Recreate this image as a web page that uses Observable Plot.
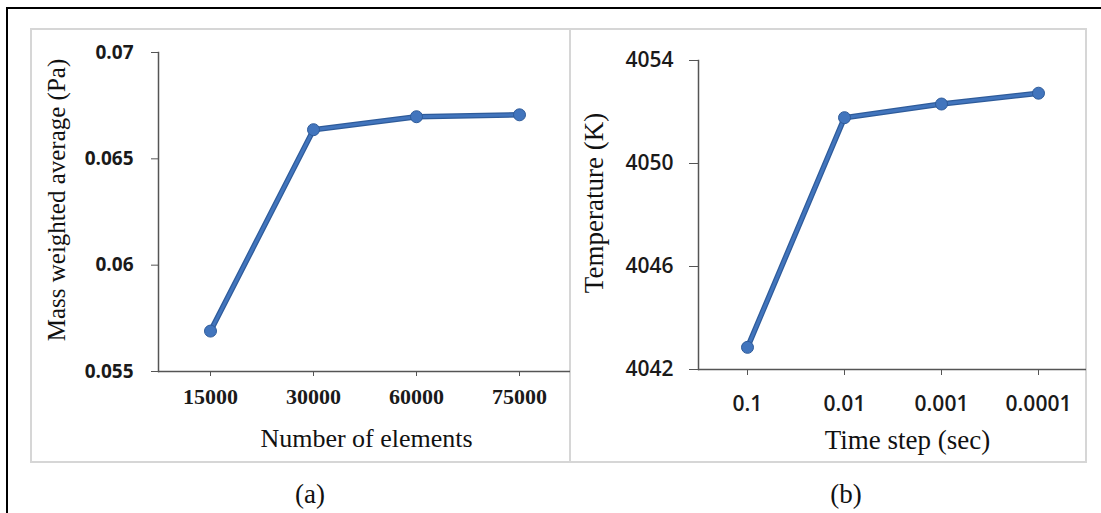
<!DOCTYPE html>
<html>
<head>
<meta charset="utf-8">
<script src="https://cdn.jsdelivr.net/npm/d3@7"></script>
<script src="https://cdn.jsdelivr.net/npm/@observablehq/plot@0.6"></script>
<style>
  html, body { margin: 0; padding: 0; background: #fff; overflow: hidden; }
  #wrap { position: relative; width: 1101px; height: 513px; overflow: hidden; background: #fff; }
  .outer { position: absolute; left: 6px; top: 7px; width: 1200px; height: 700px; border: 2.5px solid #000; box-sizing: border-box; }
  .frame { position: absolute; border: 2px solid #d6d6d6; box-sizing: border-box; }
  .chart { position: absolute; }
  .cap { position: absolute; font-family: "Liberation Serif", serif; font-size: 27px; color: #111; transform: translate(-50%, -50%); white-space: nowrap; }
</style>
</head>
<body>
<div id="wrap">
  <div class="outer"></div>
  <div class="frame" style="left:30px; top:28px; width:541px; height:435px;"></div>
  <div class="frame" style="left:569px; top:28px; width:518px; height:435px;"></div>
  <div class="chart" id="ca" style="left:31px; top:29px;"></div>
  <div class="chart" id="cb" style="left:570px; top:29px;"></div>
  <div class="cap" style="left:310px; top:494px;">(a)</div>
  <div class="cap" style="left:846px; top:494px;">(b)</div>
</div>
<script>
// Panel (a) data
const elementsA = ["15000", "30000", "60000", "75000"];
const massAvgA = [0.0569, 0.06637, 0.06698, 0.06707];
const yTicksA = [0.055, 0.06, 0.065, 0.07];
const yTickLabelsA = ["0.055", "0.06", "0.065", "0.07"];
const xTitleA = "Number of elements";
const yTitleA = "Mass weighted average (Pa)";

// Panel (b) data
const stepsB = ["0.1", "0.01", "0.001", "0.0001"];
const tempB = [4042.86, 4051.78, 4052.31, 4052.73];
const yTicksB = [4042, 4046, 4050, 4054];
const yTickLabelsB = ["4042", "4046", "4050", "4054"];
const xTitleB = "Time step (sec)";
const yTitleB = "Temperature (K)";

const lineDark = "#2e5b9a";
const lineMain = "#4275bd";
const axisColor = "#555";
const serif = "Liberation Serif, Times New Roman, serif";
const sans = "Open Sans, Noto Sans, sans-serif";

const tableA = elementsA.map((n, i) => ({n, v: massAvgA[i]}));
const tableB = stepsB.map((s, i) => ({s, v: tempB[i]}));

const plotA = Plot.plot({
  width: 539,
  height: 433,
  marginLeft: 127,
  marginRight: 0,
  marginTop: 23,
  marginBottom: 91,
  style: {background: "transparent", overflow: "visible"},
  x: {type: "point", domain: elementsA, padding: 0.5, axis: null},
  y: {domain: [yTicksA[0], yTicksA[yTicksA.length - 1]], axis: null},
  marks: [
    Plot.frame({anchor: "left", stroke: axisColor, strokeWidth: 1.5}),
    Plot.ruleY([yTicksA[0]], {stroke: axisColor, strokeWidth: 1.5}),
    Plot.axisY({
      ticks: yTicksA,
      tickFormat: (d) => yTickLabelsA[yTicksA.indexOf(d)],
      tickSize: 7, tickPadding: 18, stroke: axisColor,
      fontFamily: sans, fontSize: 19, fontWeight: 700, fill: "#1a1a1a", label: null
    }),
    Plot.axisX({
      tickSize: 5, tickPadding: 12, stroke: axisColor,
      fontFamily: serif, fontSize: 22, fontWeight: 700, fill: "#1a1a1a", label: null
    }),
    Plot.line(tableA, {x: "n", y: "v", stroke: lineDark, strokeWidth: 5.5, strokeLinejoin: "round"}),
    Plot.line(tableA, {x: "n", y: "v", stroke: lineMain, strokeWidth: 3, strokeLinejoin: "round"}),
    Plot.dot(tableA, {x: "n", y: "v", r: 6, fill: lineMain, stroke: lineDark, strokeWidth: 1}),
    Plot.text([xTitleA], {frameAnchor: "bottom", textAnchor: "middle", dx: 2, dy: 67, lineAnchor: "middle", fontFamily: serif, fontSize: 26, fill: "#111"}),
    Plot.text([yTitleA], {frameAnchor: "left", textAnchor: "middle", rotate: -90, dx: -102, dy: -12, lineAnchor: "middle", fontFamily: serif, fontSize: 25, fill: "#111"})
  ]
});
document.getElementById("ca").appendChild(plotA);

const plotB = Plot.plot({
  width: 516,
  height: 433,
  marginLeft: 128,
  marginRight: 0,
  marginTop: 31,
  marginBottom: 93,
  style: {background: "transparent", overflow: "visible"},
  x: {type: "point", domain: stepsB, padding: 0.5, axis: null},
  y: {domain: [yTicksB[0], yTicksB[yTicksB.length - 1]], axis: null},
  marks: [
    Plot.frame({anchor: "left", stroke: axisColor, strokeWidth: 1.5}),
    Plot.ruleY([yTicksB[0]], {stroke: axisColor, strokeWidth: 1.5}),
    Plot.axisY({
      ticks: yTicksB,
      tickFormat: (d) => yTickLabelsB[yTicksB.indexOf(d)],
      tickSize: 9, tickPadding: 16, stroke: axisColor,
      fontFamily: sans, fontSize: 21, fontWeight: 600, fill: "#1a1a1a", label: null
    }),
    Plot.axisX({
      tickSize: 6, tickPadding: 21, stroke: axisColor,
      fontFamily: sans, fontSize: 21, fontWeight: 600, fill: "#1a1a1a", label: null
    }),
    Plot.line(tableB, {x: "s", y: "v", stroke: lineDark, strokeWidth: 5.5, strokeLinejoin: "round"}),
    Plot.line(tableB, {x: "s", y: "v", stroke: lineMain, strokeWidth: 3, strokeLinejoin: "round"}),
    Plot.dot(tableB, {x: "s", y: "v", r: 6, fill: lineMain, stroke: lineDark, strokeWidth: 1}),
    Plot.text([xTitleB], {frameAnchor: "bottom", textAnchor: "middle", dx: 15, dy: 71, lineAnchor: "middle", fontFamily: serif, fontSize: 27, fill: "#111"}),
    Plot.text([yTitleB], {frameAnchor: "left", textAnchor: "middle", rotate: -90, dx: -104, dy: -12, lineAnchor: "middle", fontFamily: serif, fontSize: 27, fill: "#111"})
  ]
});
document.getElementById("cb").appendChild(plotB);
</script>
</body>
</html>
